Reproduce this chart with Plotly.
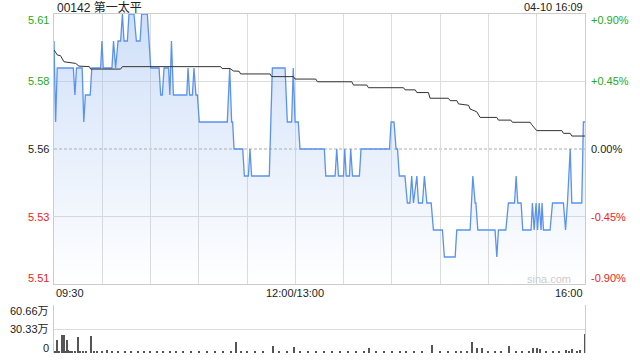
import plotly.graph_objects as go

# ---------------- data ----------------
prev_close = 5.56
price_ticks = [5.61, 5.58, 5.56, 5.53, 5.51]
price_tick_pos = [5.61, 5.585, 5.56, 5.535, 5.51]
pct_ticks = ["+0.90%", "+0.45%", "0.00%", "-0.45%", "-0.90%"]
time_labels = ["09:30", "12:00/13:00", "16:00"]
time_label_pos = [0, 150, 330]
grid_minutes = [30, 60, 90, 120, 150, 180, 210, 240, 270, 300]

price_min = [0, 1, 2, 12, 13, 14, 17.5, 18.5, 19.5, 22.5, 23.5, 29, 29.8, 30.6, 36, 37, 38.3,
             39.8, 41.4, 42.5, 43.5, 45.6, 46.6, 49.7, 51.2, 53.5, 54.5, 58, 60.1, 65.3, 66.3,
             67.3, 68.4, 71.2, 72, 73, 74.2, 82.5, 83.3, 84.3, 86, 87, 88.2, 89.1, 90.3, 107.7,
             109.2, 110.4, 111, 111.9, 117.3, 118.3, 120.8, 121.8, 122.8, 133.8, 135.7, 143.6,
             145, 147.7, 148.7, 149.8, 151.8, 152.9, 168, 168.9, 174.7, 175.7, 176.8, 179.9,
             180.7, 181.6, 183.6, 184.4, 185.5, 189.8, 190.8, 208.5, 209.5, 211.3, 212.6, 213.5,
             214.6, 218.1, 219.6, 221.2, 222.3, 223.4, 225.5, 226.5, 229, 230.2, 231.7, 234.4,
             235.8, 241.4, 242.6, 249.3, 250.3, 258.6, 260.3, 261.7, 262.2, 263.4, 274.1, 275.2,
             276.2, 280.8, 282.4, 286.2, 287.2, 288.2, 290.3, 291.3, 296.5, 297.3, 298.4, 299.6,
             300.5, 301.5, 302.7, 303.3, 304.2, 308.3, 309.8, 316.6, 317.9, 319.1, 320.8, 321.8,
             328, 329, 330]
price_val = [5.60, 5.57, 5.59, 5.59, 5.58, 5.59, 5.59, 5.57, 5.58, 5.58, 5.59, 5.59, 5.60, 5.59,
             5.59, 5.60, 5.59, 5.60, 5.60, 5.61, 5.60, 5.60, 5.61, 5.61, 5.60, 5.60, 5.61, 5.61,
             5.59, 5.59, 5.58, 5.58, 5.59, 5.59, 5.58, 5.60, 5.58, 5.58, 5.59, 5.58, 5.58, 5.59,
             5.58, 5.58, 5.57, 5.57, 5.59, 5.57, 5.57, 5.56, 5.56, 5.55, 5.55, 5.56, 5.55, 5.55,
             5.59, 5.59, 5.57, 5.57, 5.59, 5.57, 5.57, 5.56, 5.56, 5.55, 5.55, 5.56, 5.55, 5.55,
             5.56, 5.55, 5.55, 5.56, 5.55, 5.55, 5.56, 5.56, 5.57, 5.57, 5.56, 5.56, 5.55, 5.55,
             5.54, 5.54, 5.55, 5.54, 5.55, 5.54, 5.54, 5.55, 5.54, 5.54, 5.53, 5.53, 5.52, 5.52,
             5.53, 5.53, 5.55, 5.54, 5.54, 5.53, 5.53, 5.52, 5.53, 5.53, 5.54, 5.54, 5.55, 5.54,
             5.54, 5.53, 5.53, 5.54, 5.53, 5.54, 5.53, 5.54, 5.53, 5.54, 5.53, 5.53, 5.54, 5.54,
             5.53, 5.54, 5.56, 5.54, 5.54, 5.57, 5.57]

avg_min = [0, 2.1, 4, 6.2, 13.5, 15.5, 22, 22.8, 41.4, 42.5, 103.6, 104.5, 109.4, 111.5, 115,
           116, 134.3, 135.3, 148.8, 149.8, 162.7, 163.7, 185.1, 186.1, 194.4, 195.4, 217.2,
           218.2, 224.5, 225.5, 232.7, 233.7, 245.1, 246.2, 250.4, 251.4, 257.6, 258.6, 262.7,
           264.8, 275.2, 276.2, 283.9, 284.9, 295.9, 296.9, 300, 315.6, 316.6, 320.8, 321.8, 330]
avg_val = [5.5967, 5.5948, 5.5946, 5.5923, 5.5917, 5.5907, 5.5905, 5.5896, 5.5896, 5.5905,
           5.5905, 5.5898, 5.5898, 5.5889, 5.5888, 5.5878, 5.5878, 5.5868, 5.5868, 5.5859,
           5.5859, 5.5849, 5.5849, 5.5837, 5.5837, 5.5827, 5.5827, 5.5819, 5.5819, 5.5809,
           5.5809, 5.5788, 5.5788, 5.5779, 5.5779, 5.5767, 5.5762, 5.5748, 5.5738, 5.5717,
           5.5717, 5.5707, 5.5707, 5.5699, 5.5699, 5.5690, 5.5668, 5.5668, 5.5658, 5.5658,
           5.5648, 5.5648]

vol_min = [0, 1, 2, 3, 5, 6, 7, 8, 9, 10, 11, 13, 15, 16, 18, 20, 23, 25, 27, 30, 33, 36, 40,
           44, 48, 52, 56, 60, 64, 68, 72, 76, 80, 85, 90, 95, 100, 105, 110, 113, 116, 120, 125,
           130, 136, 140, 145, 149, 153, 158, 163, 168, 173, 178, 183, 188, 193, 196, 200, 205,
           210, 215, 219, 224, 229, 235, 240, 245, 250, 253, 257, 260, 263, 266, 270, 274, 278,
           283, 287, 291, 295, 298, 300, 302, 306, 310, 314, 318, 320, 322, 325, 327, 330]
vol_val = [3, 2, 16, 2, 23, 23, 3, 16, 4, 2, 3, 2, 20, 3, 2, 3, 22, 2, 3, 2, 4, 2, 2,
           1.5, 2, 1.5, 2, 1.5, 2, 1.5, 2, 1.5, 2, 1.5, 2, 1.5, 2, 1.5, 2, 13.5, 2, 1.5, 2,
           1.5, 8.4, 2, 1.5, 7, 2, 1.5, 2, 1.5, 2, 1.5, 2, 1.5, 2, 6.3, 2, 1.5, 2, 3, 3, 1.5,
           2, 9.6, 1.5, 2, 1.5, 3, 2, 13.4, 6.8, 6.8, 2, 3, 1.5, 8.4, 2, 1.5, 2, 6.3, 6.3, 4.5,
           2, 3, 2, 3.5, 3, 4.5, 2, 4, 24]
vol_ticks = [60.66, 30.33, 0]
vol_tick_text = ["60.66万", "30.33万", "0"]

title_left = "00142 第一太平"
title_right = "04-10 16:09"

# ---------------- figure ----------------
FONT = "Arial, 'Liberation Sans', 'Noto Sans CJK SC', sans-serif"
GREEN = "#22aa22"
RED = "#ee2222"
DARK = "#222222"
GRID = "#dcdcdc"
FRAME = "#cccccc"

ymin, ymax = 5.51, 5.61
fig = go.Figure()

fig.add_trace(go.Scatter(
    x=price_min, y=price_val, mode="lines",
    line=dict(color="#5a92ee", width=1.3),
    fill="tozeroy",
    fillgradient=dict(type="vertical", start=ymin, stop=ymax,
                      colorscale=[[0, "rgba(160,192,242,0.0)"], [1, "rgba(160,192,242,0.5)"]]),
    xaxis="x", yaxis="y", hoverinfo="skip"))

fig.add_trace(go.Scatter(
    x=avg_min, y=avg_val, mode="lines",
    line=dict(color="#333333", width=1),
    xaxis="x", yaxis="y", hoverinfo="skip"))

fig.add_trace(go.Bar(
    x=vol_min, y=vol_val, width=0.7,
    marker=dict(color="#555555", line=dict(width=0)),
    xaxis="x2", yaxis="y2", hoverinfo="skip"))

x_dom = [54 / 640, 585 / 640]
fig.update_layout(
    width=640, height=360,
    margin=dict(l=0, r=0, t=0, b=0),
    paper_bgcolor="white", plot_bgcolor="white",
    showlegend=False,
    font=dict(family=FONT, size=11, color=DARK),
    xaxis=dict(domain=x_dom, range=[0, 330], anchor="y",
               tickmode="array", tickvals=grid_minutes, showticklabels=False, ticks="",
               showgrid=True, gridcolor=GRID, gridwidth=1,
               showline=True, mirror=True, linecolor=FRAME, linewidth=1, zeroline=False),
    yaxis=dict(domain=[1 - 284 / 360, 1 - 14 / 360], range=[ymin, ymax], anchor="x",
               tickmode="array", tickvals=[5.535, 5.585], showticklabels=False, ticks="",
               showgrid=True, gridcolor=GRID, gridwidth=1,
               showline=True, mirror=True, linecolor=FRAME, linewidth=1, zeroline=False),
    xaxis2=dict(domain=x_dom, range=[0, 330], anchor="y2",
                showticklabels=False, ticks="", showgrid=False, showline=False,
                zeroline=False),
    yaxis2=dict(domain=[1 - 353 / 360, 1 - 305 / 360], range=[0, 60.66], anchor="x2",
                tickmode="array", tickvals=[30.33, 60.66], showticklabels=False, ticks="",
                showgrid=True, gridcolor=GRID, gridwidth=1,
                showline=True, mirror=True, linecolor=FRAME, linewidth=1, zeroline=False),
    bargap=0,
)

fig.add_shape(type="line", xref="x", yref="y", x0=0, x1=330, y0=prev_close, y1=prev_close,
              line=dict(color="#aaaaaa", width=1, dash="3px,2px"), layer="below")

ann = []
colors = [GREEN, GREEN, DARK, RED, RED]
shifts = [-6, 0, 0, 0, 6]
for v, lbl, pct, c, s in zip(price_tick_pos, price_ticks, pct_ticks, colors, shifts):
    ann.append(dict(x=x_dom[0], xref="paper", xanchor="right", xshift=-3,
                    y=v, yref="y", yanchor="middle", yshift=s,
                    text=f"{lbl:.2f}", showarrow=False, font=dict(size=11, color=c)))
    ann.append(dict(x=x_dom[1], xref="paper", xanchor="left", xshift=4,
                    y=v, yref="y", yanchor="middle", yshift=s,
                    text=pct, showarrow=False, font=dict(size=11, color=c)))

anchors = ["left", "center", "right"]
for p, t, a in zip(time_label_pos, time_labels, anchors):
    ann.append(dict(x=p, xref="x", xanchor=a, y=1 - 293 / 360, yref="paper",
                    yanchor="middle", text=t, showarrow=False,
                    font=dict(size=11, color=DARK)))

vshifts = [-6, 0, 5]
for v, t, s in zip(vol_ticks, vol_tick_text, vshifts):
    ann.append(dict(x=x_dom[0], xref="paper", xanchor="right", xshift=-3,
                    y=v, yref="y2", yanchor="middle", yshift=s,
                    text=t, showarrow=False, font=dict(size=11, color=DARK)))

ann.append(dict(x=x_dom[0], xref="paper", xanchor="left", xshift=1, y=1 - 7 / 360,
                yref="paper", yanchor="middle", text=title_left, showarrow=False,
                font=dict(size=12, color=DARK)))
ann.append(dict(x=x_dom[1], xref="paper", xanchor="right", y=1 - 7 / 360,
                yref="paper", yanchor="middle", text=title_right, showarrow=False,
                font=dict(size=11, color=DARK)))
ann.append(dict(x=x_dom[1], xref="paper", xanchor="right", xshift=-12, y=1 - 279 / 360,
                yref="paper", yanchor="middle", text="sina.com", showarrow=False,
                font=dict(size=11, color="#cccccc")))

fig.update_layout(annotations=ann)
fig.write_html("out.html")
